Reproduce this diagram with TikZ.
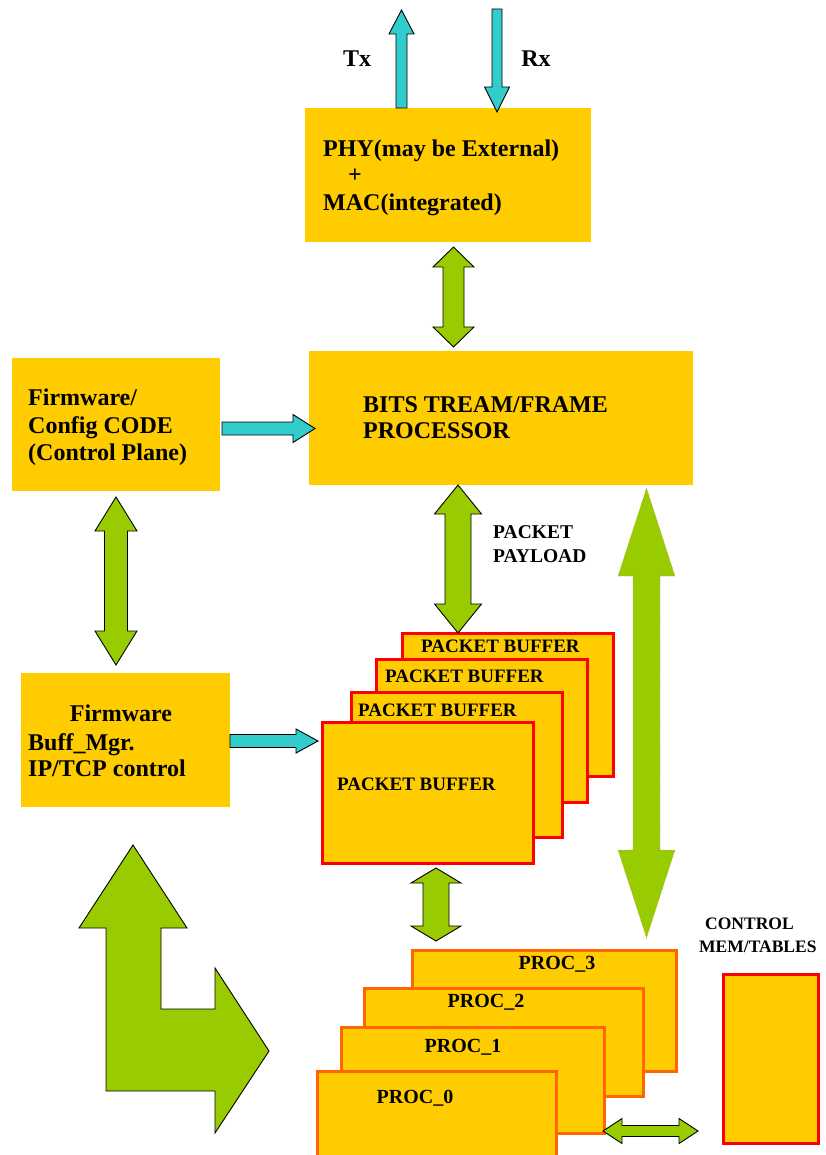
\documentclass[tikz,border=0pt]{standalone}
\usepackage{fontspec}
\setmainfont{Liberation Serif}
\usetikzlibrary{calc}
\definecolor{gold}{HTML}{FFCC00}
\definecolor{lgreen}{HTML}{99CC00}
\definecolor{cyanb}{HTML}{33CCCC}
\definecolor{bred}{HTML}{FF0000}
\definecolor{borange}{HTML}{FF6600}
\definecolor{dotc}{RGB}{200,150,120}
\newcommand\vdarr[6]{\path[#1] let \p1=(#2), \p2=(#3) in (\x1,\y1) -- (\x1+#5pt,\y1-#6pt) -- (\x1+#4pt,\y1-#6pt) -- (\x1+#4pt,\y2+#6pt) -- (\x1+#5pt,\y2+#6pt) -- (\x1,\y2) -- (\x1-#5pt,\y2+#6pt) -- (\x1-#4pt,\y2+#6pt) -- (\x1-#4pt,\y1-#6pt) -- (\x1-#5pt,\y1-#6pt) -- cycle;}
\newcommand\uparr[6]{\path[#1] let \p1=(#2), \p2=(#3) in (\x1,\y1) -- (\x1+#5pt,\y1-#6pt) -- (\x1+#4pt,\y1-#6pt) -- (\x1+#4pt,\y2) -- (\x1-#4pt,\y2) -- (\x1-#4pt,\y1-#6pt) -- (\x1-#5pt,\y1-#6pt) -- cycle;}
\newcommand\dnarr[6]{\path[#1] let \p1=(#2), \p2=(#3) in (\x1-#4pt,\y1) -- (\x1+#4pt,\y1) -- (\x1+#4pt,\y2+#6pt) -- (\x1+#5pt,\y2+#6pt) -- (\x1,\y2) -- (\x1-#5pt,\y2+#6pt) -- (\x1-#4pt,\y2+#6pt) -- cycle;}
\newcommand\rtarr[6]{\path[#1] let \p1=(#2), \p2=(#3) in (\x1,\y1+#4pt) -- (\x2-#6pt,\y1+#4pt) -- (\x2-#6pt,\y1+#5pt) -- (\x2,\y1) -- (\x2-#6pt,\y1-#5pt) -- (\x2-#6pt,\y1-#4pt) -- (\x1,\y1-#4pt) -- cycle;}
\newcommand\hdarr[6]{\path[#1] let \p1=(#2), \p2=(#3) in (\x1,\y1) -- (\x1+#6pt,\y1+#5pt) -- (\x1+#6pt,\y1+#4pt) -- (\x2-#6pt,\y1+#4pt) -- (\x2-#6pt,\y1+#5pt) -- (\x2,\y1) -- (\x2-#6pt,\y1-#5pt) -- (\x2-#6pt,\y1-#4pt) -- (\x1+#6pt,\y1-#4pt) -- (\x1+#6pt,\y1-#5pt) -- cycle;}
\tikzset{
  box/.style={fill=gold, draw=none, inner sep=0pt, outer sep=0pt, anchor=north west},
  rbox/.style={box, draw=bred, line width=3pt},
  obox/.style={box, draw=borange, line width=3pt},
  txt/.style={inner sep=0pt, font=\bfseries\fontsize{24}{28}\selectfont},
  stxt/.style={inner sep=0pt, font=\bfseries\fontsize{19}{23}\selectfont},
  ptxt/.style={inner sep=0pt, font=\bfseries\fontsize{20}{24}\selectfont},
  ctxt/.style={inner sep=0pt, font=\bfseries\fontsize{17.5}{21}\selectfont},
  garr/.style={fill=lgreen, draw=black, line width=0.9pt, line join=miter},
  carr/.style={fill=cyanb, draw=black, line width=0.9pt, line join=miter},
  bigarr/.style={fill=lgreen, draw=dotc, line width=0.6pt, dotted},
}
\begin{document}
\begin{tikzpicture}[x=1pt,y=-1pt]
\useasboundingbox (0,0) rectangle (826,1155);
\clip (0,0) rectangle (826,1155);

% main boxes
\node[box, minimum width=286pt, minimum height=134pt] (phy) at (305,108) {};
\node[box, minimum width=384pt, minimum height=134pt] (bits) at (309,351) {};
\node[box, minimum width=208pt, minimum height=133pt] (cfg) at (12,358) {};
\node[box, minimum width=209pt, minimum height=134pt] (buff) at (21,673) {};

% texts in main boxes
\node[txt, anchor=base west] (phyt1) at (323,157) {PHY(may be External)};
\node[txt, anchor=base] (phyt2) at (355,183) {+};
\node[txt, anchor=base west] (phyt3) at (323,211) {MAC(integrated)};
\node[txt, anchor=base west] (bitst1) at (363,412) {BITS TREAM/FRAME};
\node[txt, anchor=base west] (bitst2) at (363,438) {PROCESSOR};
\node[txt, anchor=base west] (cfgt1) at (28,405) {Firmware/};
\node[txt, anchor=base west] (cfgt2) at (28,433) {Config CODE};
\node[txt, anchor=base west] (cfgt3) at (28,460) {(Control Plane)};
\node[txt, anchor=base] (bufft1) at (121,721) {Firmware};
\node[txt, anchor=base west] (bufft2) at (28,750) {Buff\_Mgr.};
\node[txt, anchor=base west] (bufft3) at (28,776) {IP/TCP control};

% Tx / Rx
\node[txt, anchor=base] (tx) at (357,67) {Tx};
\node[txt, anchor=base] (rx) at (536,67) {Rx};
\coordinate (txtip) at (401.5,10);
\coordinate (txbase) at (401.5,108);
\uparr{carr}{txtip}{txbase}{5.5}{12.5}{24}
\coordinate (rxtop) at (497,9);
\coordinate (rxtip) at (497,112);
\dnarr{carr}{rxtop}{rxtip}{5}{12.5}{25}

% PHY <-> BITS
\coordinate (a1t) at (453.5,247);
\coordinate (a1b) at (453.5,347);
\vdarr{garr}{a1t}{a1b}{10.5}{20.5}{20}

% Config -> BITS
\coordinate (a2s) at (222,428.5);
\coordinate (a2e) at (315,428.5);
\rtarr{carr}{a2s}{a2e}{6.5}{14}{22}

% Config <-> Buff
\coordinate (a3t) at (116,497);
\coordinate (a3b) at (116,665);
\vdarr{garr}{a3t}{a3b}{11.5}{21}{34}

% packet buffers
\node[rbox, minimum width=211pt, minimum height=143pt] (pb4) at (402,633) {};
\node[rbox, minimum width=211pt, minimum height=143pt] (pb3) at (376,659) {};
\node[rbox, minimum width=211pt, minimum height=145pt] (pb2) at (351,692) {};
\node[rbox, minimum width=211pt, minimum height=141pt] (pb1) at (322,722) {};
\node[stxt, anchor=base west] (pb4t) at (421,652) {PACKET BUFFER};
\node[stxt, anchor=base west] (pb3t) at (385,682) {PACKET BUFFER};
\node[stxt, anchor=base west] (pb2t) at (358,716) {PACKET BUFFER};
\node[stxt, anchor=base west] (pb1t) at (337,790) {PACKET BUFFER};

% BITS <-> buffers
\coordinate (a4t) at (458,485);
\coordinate (a4b) at (458,633);
\vdarr{garr}{a4t}{a4b}{13}{23.5}{29}
\node[stxt, anchor=base west, font=\bfseries\fontsize{19.5}{23}\selectfont] (pp1) at (493,538) {PACKET};
\node[stxt, anchor=base west, font=\bfseries\fontsize{19.5}{23}\selectfont] (pp2) at (493,562) {PAYLOAD};

% Buff -> buffers
\coordinate (a5s) at (230,741);
\coordinate (a5e) at (318,741);
\rtarr{carr}{a5s}{a5e}{6.5}{12}{22}

% buffers <-> PROC
\coordinate (a6t) at (436,868);
\coordinate (a6b) at (436,941);
\vdarr{garr}{a6t}{a6b}{13}{25}{15}

% big right double arrow
\coordinate (a7t) at (646.5,488);
\coordinate (a7b) at (646.5,938);
\vdarr{bigarr}{a7t}{a7b}{13.5}{28.5}{88}

% PROC boxes
\node[obox, minimum width=264pt, minimum height=121pt] (p3) at (412,950) {};
\node[obox, minimum width=279pt, minimum height=108pt] (p2) at (364,988) {};
\node[obox, minimum width=263pt, minimum height=106pt] (p1) at (341,1027) {};
\node[obox, minimum width=239pt, minimum height=100pt] (p0) at (317,1071) {};
\node[ptxt, anchor=base] (p3t) at (557,969) {PROC\_3};
\node[ptxt, anchor=base] (p2t) at (486,1007) {PROC\_2};
\node[ptxt, anchor=base] (p1t) at (463,1052) {PROC\_1};
\node[ptxt, anchor=base] (p0t) at (415,1103) {PROC\_0};

% control mem
\node[rbox, minimum width=95pt, minimum height=169pt] (cm) at (723,974) {};
\node[ctxt, anchor=base west] (cmt1) at (705,929) {CONTROL};
\node[ctxt, anchor=base west] (cmt2) at (699,952) {MEM/TABLES};

% PROC <-> CONTROL MEM
\coordinate (a8l) at (603,1131);
\coordinate (a8r) at (698,1131);
\hdarr{garr}{a8l}{a8r}{5.5}{12.5}{19}

% L-shaped arrow
\path[garr] (133,845) -- (187,928) -- (161,928) -- (161,1009) -- (215,1009) -- (215,968) -- (269,1051) -- (215,1133) -- (215,1091) -- (106,1091) -- (106,928) -- (79,928) -- cycle;
\end{tikzpicture}
\end{document}
